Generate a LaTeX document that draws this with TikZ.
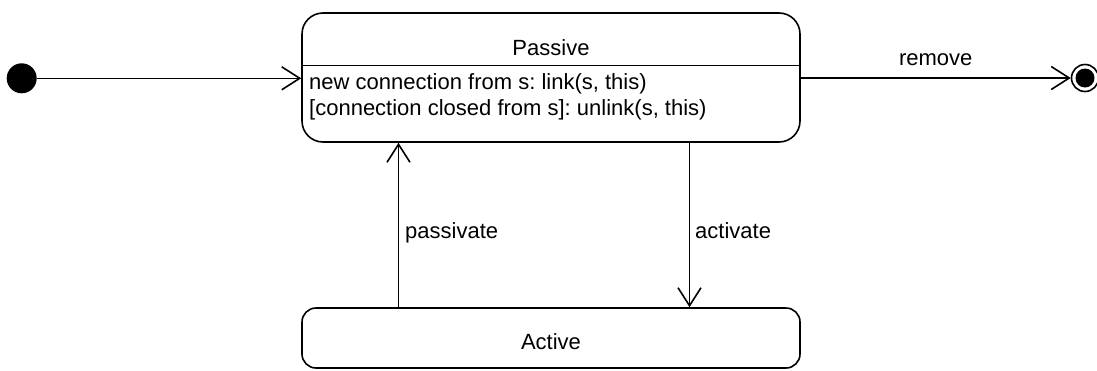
\documentclass[tikz,border=0pt]{standalone}
\usepackage{fontspec}
\setmainfont{Liberation Sans}
\usetikzlibrary{arrows.meta}
\frenchspacing
\begin{document}
\begin{tikzpicture}[x=1pt,y=-1pt,
  every node/.style={font=\fontsize{22}{27}\selectfont, inner sep=0pt},
  ln/.style={line width=1.6pt},
  statebox/.style={draw, line width=1.6pt, rounded corners=#1},
  arr/.style={ln, -{Straight Barb[length=18pt,width=23pt,line width=1.6pt]}},
  txt/.style={anchor=west},
  btxt/.style={anchor=base west}
]
\useasboundingbox (0,0) rectangle (1097,370);
% states
\node[statebox=21pt, minimum width=498pt, minimum height=129pt] (passive) at (551,77.5) {};
\draw[ln] (passive.west |- 0,65.5) coordinate (dl) -- (dl -| passive.east);
\node (ptitle) at (551,48) {Passive};
\node[txt] (l1) at (309,84) {new connection from s: link(s, this)};
\node[txt] (l2) at (309,110) {[connection closed from s]: unlink(s, this)};
\node[statebox=14pt, minimum width=498pt, minimum height=60pt] (active) at (551,338) {};
\node (atitle) at (551,341.5) {Active};
% initial and final
\node[circle, fill=black, minimum size=30pt] (init) at (21.7,78.3) {};
\node[circle, draw, line width=1.6pt, minimum size=27pt] (final) at (1085,78) {};
\fill (final.center) circle (9.5pt);
% transitions
\draw[arr] (init.east) -- (init -| passive.west);
\draw[arr] (final -| passive.east) -- node[above=11pt] (rm) {remove} (final.west);
\coordinate (px) at (398.5,0);
\coordinate (ax) at (689.5,0);
\draw[arr] (px |- active.north) -- (px |- passive.south);
\draw[arr] (ax |- passive.south) -- (ax |- active.north);
\node[btxt] (pl) at (405,238.5) {passivate};
\node[btxt] (al) at (695,238.5) {activate};
\end{tikzpicture}
\end{document}
